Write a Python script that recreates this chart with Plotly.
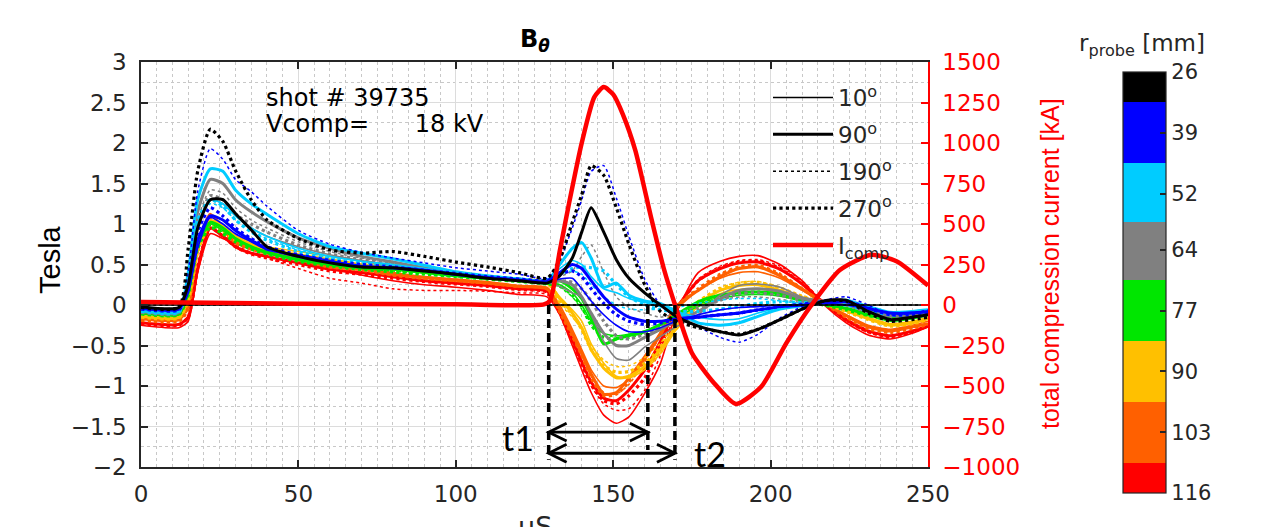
import plotly.graph_objects as go

# ---------------- data ----------------
t_us = [0, 12, 15, 18, 22, 26, 30, 35, 40, 50,
        60, 70, 80, 90, 100, 110, 120, 129, 133, 137,
        140, 143, 147, 151, 155, 160, 165, 170, 177, 184,
        190, 196, 203, 210, 217, 224, 231, 238, 245, 250]

# r = 26 mm (black)
b26_10 = [0.00, 0.00, 0.00, 0.00, 0.00, 0.00, 0.00, 0.00, 0.00, 0.00,
          0.00, 0.00, 0.00, 0.00, 0.00, 0.00, 0.00, 0.00, 0.00, 0.00,
          0.00, 0.00, 0.00, 0.00, 0.00, 0.00, 0.00, 0.00, 0.00, 0.00,
          0.00, 0.00, 0.00, 0.00, 0.00, 0.00, 0.00, 0.00, 0.00, 0.00]
b26_90 = [-0.02, -0.03, 0.25, 0.95, 1.30, 1.30, 1.13, 0.93, 0.72, 0.60,
          0.52, 0.47, 0.46, 0.42, 0.38, 0.33, 0.30, 0.27, 0.36, 0.58,
          0.90, 1.20, 0.90, 0.56, 0.33, 0.15, 0.00, -0.14, -0.26, -0.33,
          -0.37, -0.30, -0.18, -0.05, 0.05, 0.06, -0.08, -0.18, -0.15, -0.12]
b26_190 = [0.00, 0.00, 0.00, 0.00, 0.00, 0.00, 0.00, 0.00, 0.00, 0.00,
           0.00, 0.00, 0.00, 0.00, 0.00, 0.00, 0.00, 0.00, 0.00, 0.00,
           0.00, 0.00, 0.00, 0.00, 0.00, 0.00, 0.00, 0.00, 0.00, 0.00,
           0.00, 0.00, 0.00, 0.00, 0.00, 0.00, 0.00, 0.00, 0.00, 0.00]
b26_270 = [-0.03, -0.03, 0.70, 1.65, 2.17, 2.02, 1.66, 1.30, 1.05, 0.82,
           0.68, 0.64, 0.66, 0.60, 0.53, 0.47, 0.40, 0.33, 0.56, 1.02,
           1.36, 1.72, 1.60, 1.20, 0.75, 0.25, -0.08, -0.20, -0.28, -0.33,
           -0.36, -0.30, -0.18, -0.05, 0.05, 0.05, -0.10, -0.20, -0.18, -0.15]

# r = 39 mm (blue)
b39_10 = [-0.05, -0.05, 0.15, 0.70, 1.08, 1.00, 0.88, 0.78, 0.68, 0.62,
          0.55, 0.48, 0.45, 0.42, 0.37, 0.33, 0.30, 0.28, 0.32, 0.33,
          0.20, 0.05, -0.12, -0.25, -0.33, -0.33, -0.28, -0.20, -0.12, -0.06,
          -0.03, -0.02, 0.00, 0.00, 0.02, 0.00, -0.05, -0.10, -0.09, -0.08]
b39_90 = [-0.04, -0.05, 0.20, 0.80, 1.10, 1.05, 0.92, 0.80, 0.70, 0.60,
          0.53, 0.48, 0.46, 0.43, 0.38, 0.34, 0.31, 0.29, 0.40, 0.50,
          0.45, 0.30, 0.10, -0.05, -0.15, -0.20, -0.20, -0.17, -0.15, -0.12,
          -0.10, -0.06, -0.02, 0.00, 0.03, 0.04, -0.04, -0.10, -0.10, -0.08]
b39_190 = [-0.05, -0.05, 0.40, 1.40, 1.93, 1.80, 1.55, 1.40, 1.22, 0.92,
           0.75, 0.65, 0.58, 0.52, 0.46, 0.42, 0.38, 0.33, 0.55, 0.95,
           1.30, 1.65, 1.72, 1.32, 0.85, 0.32, 0.00, -0.15, -0.27, -0.40,
           -0.46, -0.36, -0.16, -0.02, 0.06, 0.10, 0.00, -0.12, -0.10, -0.06]
b39_270 = [-0.05, -0.06, 0.20, 0.90, 1.20, 1.10, 0.95, 0.82, 0.72, 0.62,
           0.55, 0.50, 0.47, 0.43, 0.39, 0.35, 0.32, 0.30, 0.38, 0.42,
           0.35, 0.20, 0.02, -0.12, -0.20, -0.24, -0.22, -0.18, -0.15, -0.12,
           -0.10, -0.06, -0.02, 0.01, 0.04, 0.05, -0.04, -0.12, -0.12, -0.10]

# r = 52 mm (cyan)
b52_10 = [-0.07, -0.07, 0.30, 1.00, 1.30, 1.25, 1.10, 0.95, 0.85, 0.70,
          0.60, 0.54, 0.50, 0.45, 0.40, 0.36, 0.33, 0.30, 0.45, 0.55,
          0.50, 0.35, 0.20, 0.15, 0.08, 0.03, -0.02, -0.08, -0.15, -0.18,
          -0.17, -0.10, -0.03, 0.00, 0.03, 0.05, -0.03, -0.10, -0.10, -0.07]
b52_90 = [-0.07, -0.08, 0.40, 1.30, 1.68, 1.65, 1.42, 1.25, 1.12, 0.88,
          0.72, 0.64, 0.57, 0.49, 0.41, 0.36, 0.32, 0.30, 0.50, 0.70,
          0.77, 0.58, 0.22, 0.27, 0.12, 0.05, 0.02, -0.08, -0.22, -0.25,
          -0.22, -0.14, -0.05, -0.01, 0.02, 0.06, -0.02, -0.09, -0.08, -0.06]
b52_190 = [-0.08, -0.08, 0.30, 1.00, 1.25, 1.20, 1.05, 0.92, 0.82, 0.68,
           0.58, 0.52, 0.48, 0.44, 0.39, 0.35, 0.32, 0.30, 0.38, 0.42,
           0.38, 0.25, 0.10, 0.00, -0.05, -0.06, -0.05, -0.03, 0.02, 0.06,
           0.08, 0.08, 0.05, 0.02, 0.02, 0.00, -0.06, -0.10, -0.10, -0.08]
b52_270 = [-0.08, -0.09, 0.30, 1.05, 1.30, 1.22, 1.05, 0.90, 0.80, 0.66,
           0.57, 0.52, 0.48, 0.44, 0.39, 0.35, 0.32, 0.30, 0.40, 0.45,
           0.47, 0.46, 0.42, 0.25, 0.10, 0.00, -0.06, -0.08, -0.08, -0.05,
           -0.02, 0.02, 0.04, 0.03, 0.02, 0.00, -0.07, -0.12, -0.11, -0.08]

# r = 64 mm (gray)
b64_10 = [-0.08, -0.09, 0.30, 1.00, 1.30, 1.25, 1.10, 0.95, 0.85, 0.72,
          0.62, 0.55, 0.50, 0.45, 0.40, 0.35, 0.32, 0.28, 0.23, 0.15,
          0.10, -0.12, -0.45, -0.66, -0.68, -0.52, -0.39, -0.27, -0.12, 0.12,
          0.24, 0.26, 0.22, 0.10, 0.05, 0.02, -0.08, -0.14, -0.13, -0.10]
b64_90 = [-0.08, -0.09, 0.35, 1.15, 1.55, 1.50, 1.30, 1.15, 1.03, 0.83,
          0.70, 0.60, 0.53, 0.46, 0.40, 0.35, 0.31, 0.28, 0.30, 0.25,
          0.10, -0.10, -0.35, -0.50, -0.50, -0.40, -0.30, -0.20, -0.08, 0.08,
          0.18, 0.20, 0.17, 0.08, 0.04, 0.00, -0.08, -0.13, -0.12, -0.10]
b64_190 = [-0.09, -0.10, 0.30, 1.05, 1.42, 1.38, 1.20, 1.05, 0.95, 0.78,
           0.66, 0.58, 0.52, 0.46, 0.41, 0.36, 0.33, 0.30, 0.35, 0.42,
           0.60, 0.74, 0.40, 0.10, -0.03, -0.10, -0.15, -0.10, -0.02, 0.06,
           0.10, 0.10, 0.07, 0.03, 0.04, 0.02, -0.05, -0.10, -0.10, -0.08]
b64_270 = [-0.09, -0.10, 0.30, 1.00, 1.35, 1.30, 1.12, 1.00, 0.90, 0.74,
           0.63, 0.56, 0.50, 0.45, 0.40, 0.35, 0.32, 0.29, 0.30, 0.28,
           0.20, 0.05, -0.20, -0.38, -0.42, -0.36, -0.28, -0.18, -0.05, 0.06,
           0.14, 0.15, 0.12, 0.06, 0.03, 0.00, -0.08, -0.14, -0.13, -0.10]

# r = 77 mm (green)
b77_10 = [-0.10, -0.11, 0.15, 0.75, 1.00, 0.92, 0.82, 0.72, 0.66, 0.57,
          0.51, 0.47, 0.44, 0.40, 0.36, 0.33, 0.30, 0.27, 0.25, 0.15,
          0.00, -0.20, -0.35, -0.38, -0.36, -0.32, -0.25, -0.15, -0.02, 0.08,
          0.12, 0.13, 0.11, 0.05, 0.01, -0.04, -0.10, -0.15, -0.14, -0.11]
b77_90 = [-0.10, -0.11, 0.15, 0.75, 1.02, 0.95, 0.82, 0.72, 0.65, 0.56,
          0.50, 0.46, 0.44, 0.40, 0.36, 0.33, 0.30, 0.27, 0.30, 0.20,
          0.08, -0.15, -0.48, -0.42, -0.38, -0.33, -0.24, -0.12, 0.04, 0.12,
          0.15, 0.16, 0.14, 0.07, 0.01, -0.04, -0.12, -0.19, -0.16, -0.11]
b77_190 = [-0.11, -0.12, 0.15, 0.72, 0.98, 0.90, 0.80, 0.70, 0.64, 0.55,
           0.49, 0.45, 0.42, 0.38, 0.35, 0.32, 0.29, 0.26, 0.22, 0.10,
           -0.05, -0.22, -0.36, -0.40, -0.38, -0.33, -0.24, -0.13, 0.00, 0.10,
           0.14, 0.15, 0.12, 0.06, 0.01, -0.05, -0.12, -0.17, -0.15, -0.12]
b77_270 = [-0.11, -0.12, 0.12, 0.70, 0.96, 0.88, 0.78, 0.69, 0.63, 0.54,
           0.48, 0.44, 0.41, 0.38, 0.35, 0.32, 0.29, 0.26, 0.24, 0.12,
           -0.02, -0.25, -0.40, -0.42, -0.40, -0.34, -0.25, -0.12, 0.02, 0.11,
           0.15, 0.16, 0.13, 0.06, 0.00, -0.06, -0.13, -0.18, -0.16, -0.12]

# r = 90 mm (yellow)
b90_10 = [-0.13, -0.14, 0.10, 0.72, 1.05, 0.98, 0.86, 0.78, 0.72, 0.66,
          0.60, 0.54, 0.48, 0.45, 0.40, 0.36, 0.32, 0.29, 0.10, -0.06,
          -0.20, -0.48, -0.72, -0.88, -0.90, -0.80, -0.60, -0.31, -0.02, 0.14,
          0.19, 0.20, 0.15, 0.08, 0.03, -0.05, -0.15, -0.23, -0.20, -0.15]
b90_90 = [-0.14, -0.15, 0.08, 0.70, 1.02, 0.95, 0.84, 0.75, 0.69, 0.62,
          0.56, 0.50, 0.46, 0.42, 0.38, 0.34, 0.31, 0.28, 0.08, -0.10,
          -0.28, -0.55, -0.78, -0.90, -0.88, -0.76, -0.55, -0.27, 0.02, 0.18,
          0.24, 0.25, 0.18, 0.09, 0.02, -0.07, -0.17, -0.25, -0.22, -0.17]
b90_190 = [-0.15, -0.16, 0.08, 0.68, 1.00, 0.93, 0.82, 0.73, 0.67, 0.60,
           0.54, 0.49, 0.45, 0.41, 0.37, 0.33, 0.30, 0.27, 0.02, -0.15,
           -0.30, -0.50, -0.68, -0.76, -0.75, -0.65, -0.47, -0.22, 0.05, 0.22,
           0.28, 0.29, 0.22, 0.12, 0.03, -0.07, -0.17, -0.25, -0.22, -0.17]
b90_270 = [-0.15, -0.16, 0.05, 0.65, 1.00, 0.92, 0.80, 0.72, 0.66, 0.58,
           0.52, 0.48, 0.44, 0.40, 0.36, 0.33, 0.30, 0.27, 0.05, -0.12,
           -0.30, -0.55, -0.75, -0.83, -0.82, -0.72, -0.52, -0.25, 0.04, 0.20,
           0.27, 0.28, 0.21, 0.10, 0.02, -0.08, -0.18, -0.26, -0.23, -0.18]

# r = 103 mm (orange)
b103_10 = [-0.17, -0.18, 0.00, 0.70, 1.10, 0.95, 0.80, 0.72, 0.67, 0.58,
           0.50, 0.46, 0.40, 0.35, 0.32, 0.29, 0.24, 0.22, 0.00, -0.30,
           -0.55, -0.80, -1.00, -1.02, -0.92, -0.68, -0.38, -0.06, 0.18, 0.33,
           0.40, 0.41, 0.33, 0.18, 0.02, -0.12, -0.25, -0.30, -0.25, -0.20]
b103_90 = [-0.17, -0.18, 0.00, 0.72, 1.12, 0.95, 0.78, 0.70, 0.66, 0.58,
           0.48, 0.45, 0.38, 0.34, 0.31, 0.27, 0.23, 0.20, -0.05, -0.35,
           -0.60, -0.85, -1.10, -1.08, -0.90, -0.64, -0.35, -0.02, 0.18, 0.35,
           0.45, 0.47, 0.36, 0.20, 0.02, -0.13, -0.27, -0.32, -0.27, -0.23]
b103_190 = [-0.18, -0.19, -0.05, 0.65, 1.05, 0.92, 0.76, 0.68, 0.63, 0.55,
            0.46, 0.42, 0.36, 0.32, 0.29, 0.26, 0.22, 0.20, -0.10, -0.40,
            -0.62, -0.88, -1.08, -1.10, -0.98, -0.70, -0.38, -0.03, 0.20, 0.38,
            0.46, 0.48, 0.38, 0.20, 0.02, -0.14, -0.28, -0.33, -0.28, -0.23]
b103_270 = [-0.19, -0.20, -0.05, 0.68, 1.08, 0.93, 0.77, 0.69, 0.64, 0.57,
            0.47, 0.44, 0.37, 0.33, 0.30, 0.27, 0.23, 0.20, -0.08, -0.38,
            -0.62, -0.90, -1.12, -1.10, -0.95, -0.68, -0.36, -0.02, 0.20, 0.38,
            0.47, 0.49, 0.38, 0.20, 0.02, -0.15, -0.29, -0.34, -0.29, -0.24]

# r = 116 mm (red)
b116_10 = [-0.25, -0.28, -0.20, 0.40, 0.88, 0.82, 0.76, 0.70, 0.65, 0.55,
           0.45, 0.37, 0.30, 0.25, 0.22, 0.18, 0.13, 0.10, -0.12, -0.50,
           -0.80, -1.08, -1.36, -1.46, -1.38, -1.09, -0.72, -0.10, 0.40, 0.54,
           0.60, 0.61, 0.50, 0.30, 0.00, -0.22, -0.37, -0.42, -0.35, -0.27]
b116_90 = [-0.22, -0.24, -0.15, 0.45, 0.95, 0.85, 0.72, 0.64, 0.60, 0.52,
           0.44, 0.40, 0.35, 0.30, 0.27, 0.24, 0.20, 0.17, -0.08, -0.42,
           -0.70, -0.95, -1.15, -1.18, -1.05, -0.80, -0.45, -0.05, 0.30, 0.45,
           0.52, 0.53, 0.44, 0.26, 0.02, -0.18, -0.32, -0.38, -0.32, -0.26]
b116_190 = [-0.22, -0.24, -0.15, 0.50, 1.00, 0.88, 0.74, 0.65, 0.58, 0.45,
            0.33, 0.27, 0.20, 0.18, 0.18, 0.17, 0.15, 0.13, -0.10, -0.45,
            -0.75, -1.00, -1.22, -1.30, -1.28, -1.05, -0.62, -0.08, 0.32, 0.48,
            0.55, 0.56, 0.48, 0.30, 0.02, -0.20, -0.34, -0.40, -0.34, -0.27]
b116_270 = [-0.23, -0.25, -0.15, 0.45, 0.95, 0.85, 0.72, 0.63, 0.58, 0.50,
            0.42, 0.38, 0.33, 0.29, 0.26, 0.23, 0.19, 0.16, -0.10, -0.45,
            -0.72, -0.98, -1.18, -1.22, -1.12, -0.90, -0.52, -0.06, 0.30, 0.46,
            0.53, 0.54, 0.45, 0.27, 0.02, -0.19, -0.33, -0.39, -0.33, -0.26]

# total compression current (kA)
i_comp_t = [0, 50, 100, 128, 130, 133, 136, 140, 144, 147, 150, 153, 157,
            162, 166, 170, 175, 182, 189, 197, 205, 213, 222, 232, 240, 250]
i_comp_kA = [18, 8, 4, 4, 30, 330, 630, 1000, 1283, 1345, 1300, 1180, 956,
             543, 230, -20, -296, -481, -611, -505, -235, 0, 216, 310, 270, 120]

radii_mm = [26, 39, 52, 64, 77, 90, 103, 116]
radius_colors = ['#000000', '#0000FF', '#00CCFF', '#808080',
                 '#00E600', '#FFC000', '#FF6000', '#FF0000']
angles_deg = [10, 90, 190, 270]

# markers for t1 / t2 intervals (µs)
t_start = 129.5
t1_end = 161.0
t2_end = 169.6

series = {
    (26, 10): b26_10, (26, 90): b26_90, (26, 190): b26_190, (26, 270): b26_270,
    (39, 10): b39_10, (39, 90): b39_90, (39, 190): b39_190, (39, 270): b39_270,
    (52, 10): b52_10, (52, 90): b52_90, (52, 190): b52_190, (52, 270): b52_270,
    (64, 10): b64_10, (64, 90): b64_90, (64, 190): b64_190, (64, 270): b64_270,
    (77, 10): b77_10, (77, 90): b77_90, (77, 190): b77_190, (77, 270): b77_270,
    (90, 10): b90_10, (90, 90): b90_90, (90, 190): b90_190, (90, 270): b90_270,
    (103, 10): b103_10, (103, 90): b103_90, (103, 190): b103_190, (103, 270): b103_270,
    (116, 10): b116_10, (116, 90): b116_90, (116, 190): b116_190, (116, 270): b116_270,
}

# ---------------- styling ----------------
angle_style = {10: dict(width=1.6, dash='solid'),
               90: dict(width=3.0, dash='solid'),
               190: dict(width=1.5, dash='dot'),
               270: dict(width=3.2, dash='dot')}

TXT = '#262626'
HFONT = 'DejaVu Sans'
VFONT = 'Liberation Sans, Arial'

PL, PR, PT, PB = 141, 928, 62, 467


def px_x(px):
    return (px - PL) / (PR - PL)


def px_y(py):
    return (PB - py) / (PB - PT)


fig = go.Figure()

for r, col in reversed(list(zip(radii_mm, radius_colors))):
    for a in angles_deg:
        show = (r == radii_mm[0])
        fig.add_trace(go.Scatter(
            x=t_us, y=series[(r, a)], mode='lines',
            line=dict(color=col, shape='spline', smoothing=0.6, **angle_style[a]),
            name=f'{a}<sup>o</sup>', showlegend=show,
            legendgroup=f'g{a}' if show else None,
            hoverinfo='skip'))

fig.add_trace(go.Scatter(
    x=i_comp_t, y=i_comp_kA, yaxis='y2', mode='lines',
    line=dict(color='#FF0000', width=4.5, shape='spline', smoothing=0.6),
    name='I<sub>comp</sub>', legendgroup='gI', hoverinfo='skip'))

# colorbar for probe radius
nr = len(radii_mm)
cmin, cmax = -max(radii_mm), -min(radii_mm)
vals_sorted = sorted(radii_mm, reverse=True)
cols_sorted = [radius_colors[radii_mm.index(v)] for v in vals_sorted]
bounds = [0.0]
for i in range(nr - 1):
    mid = -(vals_sorted[i] + vals_sorted[i + 1]) / 2.0
    bounds.append((mid - cmin) / (cmax - cmin))
bounds.append(1.0)
cscale = []
for i, c in enumerate(cols_sorted):
    cscale.append([bounds[i], c])
    cscale.append([bounds[i + 1], c])

fig.add_trace(go.Scatter(
    x=[None], y=[None], mode='markers', showlegend=False, hoverinfo='skip',
    marker=dict(color=[cmin, cmax], cmin=cmin, cmax=cmax, colorscale=cscale,
                showscale=True,
                colorbar=dict(
                    x=px_x(1123), xanchor='left',
                    y=px_y(72), yanchor='top',
                    len=421, lenmode='pixels',
                    thickness=43, thicknessmode='pixels',
                    xpad=0, ypad=0,
                    outlinewidth=1.2, outlinecolor=TXT,
                    tickmode='array',
                    tickvals=[-r for r in radii_mm],
                    ticktext=[str(r) for r in radii_mm],
                    ticks='inside', ticklen=6, tickcolor=TXT, tickwidth=1.5,
                    tickfont=dict(family=HFONT, size=21, color=TXT)))))

# t1 / t2 markers
shapes = []
dash_bottom = {t_start: -1.91, t1_end: -1.79, t2_end: -1.91}
for tx, yb in dash_bottom.items():
    shapes.append(dict(type='line', xref='x', yref='y', x0=tx, x1=tx, y0=0, y1=yb,
                       line=dict(color='black', width=3.5, dash='9px,5px')))
arrow_dx, arrow_dy = 5.7, 0.11
for xe, ya in [(t1_end, -1.57), (t2_end, -1.83)]:
    shapes.append(dict(type='line', xref='x', yref='y', x0=t_start, x1=xe, y0=ya, y1=ya,
                       line=dict(color='black', width=2.8)))
    shapes.append(dict(type='path', xref='x', yref='y',
                       path=f'M {t_start + arrow_dx},{ya + arrow_dy} L {t_start},{ya} L {t_start + arrow_dx},{ya - arrow_dy}',
                       line=dict(color='black', width=2.8)))
    shapes.append(dict(type='path', xref='x', yref='y',
                       path=f'M {xe - arrow_dx},{ya + arrow_dy} L {xe},{ya} L {xe - arrow_dx},{ya - arrow_dy}',
                       line=dict(color='black', width=2.8)))

annotations = [
    dict(text='<b>B</b><sub><b><i>θ</i></b></sub>', x=px_x(535), y=px_y(40),
         xref='paper', yref='paper', showarrow=False, xanchor='center', yanchor='middle',
         font=dict(family=HFONT, size=24, color='black')),
    dict(text='shot # 39735', x=px_x(264), y=px_y(98), xref='paper', yref='paper',
         showarrow=False, xanchor='left', yanchor='middle',
         font=dict(family=HFONT, size=24, color='black')),
    dict(text='Vcomp=\u00a0\u00a0\u00a0\u00a0\u00a0 18 kV', x=px_x(264), y=px_y(124),
         xref='paper', yref='paper', showarrow=False, xanchor='left', yanchor='middle',
         font=dict(family=HFONT, size=24, color='black')),
    dict(text='t1', x=px_x(518), y=px_y(437), xref='paper', yref='paper',
         showarrow=False, xanchor='center', yanchor='middle',
         font=dict(family='Lato', size=34, color='black')),
    dict(text='t2', x=px_x(710), y=px_y(453), xref='paper', yref='paper',
         showarrow=False, xanchor='center', yanchor='middle',
         font=dict(family='Lato', size=34, color='black')),
    dict(text='Tesla', x=px_x(50), y=px_y(260), xref='paper', yref='paper',
         showarrow=False, textangle=-90, xanchor='center', yanchor='middle',
         font=dict(family=VFONT, size=29, color='black')),
    dict(text='total compression current [kA]', x=px_x(1050), y=px_y(264),
         xref='paper', yref='paper', showarrow=False, textangle=-90,
         xanchor='center', yanchor='middle',
         font=dict(family=VFONT, size=25, color='#FF0000')),
    dict(text='µS', x=px_x(535), y=px_y(526), xref='paper', yref='paper',
         showarrow=False, xanchor='center', yanchor='middle',
         font=dict(family=HFONT, size=27, color=TXT)),
    dict(text='r<sub>probe</sub> [mm]', x=px_x(1142), y=px_y(45), xref='paper', yref='paper',
         showarrow=False, xanchor='center', yanchor='middle',
         font=dict(family=HFONT, size=23, color=TXT)),
]

axis_common = dict(showline=True, linewidth=1.5, ticks='inside', ticklen=7, tickwidth=1.5,
                   zeroline=False, showgrid=True, gridcolor='#dcdcdc', gridwidth=1.3)

fig.update_layout(
    width=1267, height=527,
    margin=dict(l=PL, r=1267 - PR, t=PT, b=527 - PB),
    paper_bgcolor='white', plot_bgcolor='white',
    showlegend=True,
    legend=dict(x=px_x(768), y=px_y(76), xanchor='left', yanchor='top',
                bgcolor='rgba(0,0,0,0)', borderwidth=0,
                font=dict(family=HFONT, size=23, color=TXT),
                tracegroupgap=4, traceorder='grouped', itemwidth=60),
    xaxis=dict(range=[0, 250], tick0=0, dtick=50, linecolor=TXT, tickcolor=TXT,
               mirror='ticks', ticklabelstandoff=6,
               tickfont=dict(family=HFONT, size=23, color=TXT),
               minor=dict(dtick=5, showgrid=True, gridcolor='#c8c8c8', griddash='dot', gridwidth=1),
               **axis_common),
    yaxis=dict(range=[-2, 3], tick0=0, dtick=0.5, linecolor=TXT, tickcolor=TXT,
               ticklabelstandoff=8,
               tickfont=dict(family=HFONT, size=23, color=TXT),
               minor=dict(dtick=0.25, showgrid=True, gridcolor='#c8c8c8', griddash='dot', gridwidth=1),
               **axis_common),
    yaxis2=dict(overlaying='y', side='right', range=[-1000, 1500], tick0=0, dtick=250,
                showline=True, linecolor='#FF0000', linewidth=1.5,
                ticks='inside', ticklen=7, tickwidth=1.5, tickcolor='#FF0000',
                showgrid=False, zeroline=False, ticklabelstandoff=8,
                tickfont=dict(family=HFONT, size=23, color='#FF0000')),
    shapes=shapes,
    annotations=annotations,
)

fig.write_html('out.html', config={'displayModeBar': False},
               post_script="document.body.style.margin='0px';")
